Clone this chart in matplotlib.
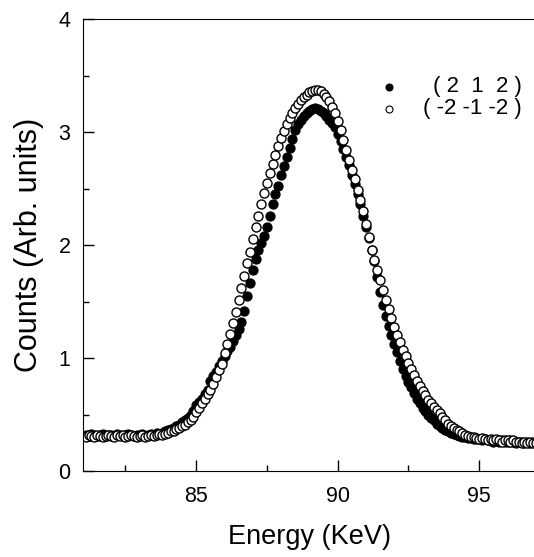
import matplotlib
matplotlib.use("Agg")
import matplotlib.pyplot as plt

plt.rcParams['font.family'] = ['Liberation Sans', 'DejaVu Sans']

# DATA

energy = [
    81.0, 81.1, 81.2, 81.3, 81.4, 81.5, 81.6, 81.7, 81.8, 81.9,
    82.0, 82.1, 82.2, 82.3, 82.4, 82.5, 82.6, 82.7, 82.8, 82.9,
    83.0, 83.1, 83.2, 83.3, 83.4, 83.5, 83.6, 83.7, 83.8, 83.9,
    84.0, 84.1, 84.2, 84.3, 84.4, 84.5, 84.6, 84.7, 84.8, 84.9,
    85.0, 85.1, 85.2, 85.3, 85.4, 85.5, 85.6, 85.7, 85.8, 85.9,
    86.0, 86.1, 86.2, 86.3, 86.4, 86.5, 86.6, 86.7, 86.8, 86.9,
    87.0, 87.1, 87.2, 87.3, 87.4, 87.5, 87.6, 87.7, 87.8, 87.9,
    88.0, 88.1, 88.2, 88.3, 88.4, 88.5, 88.6, 88.7, 88.8, 88.9,
    89.0, 89.1, 89.2, 89.3, 89.4, 89.5, 89.6, 89.7, 89.8, 89.9,
    90.0, 90.1, 90.2, 90.3, 90.4, 90.5, 90.6, 90.7, 90.8, 90.9,
    91.0, 91.1, 91.2, 91.3, 91.4, 91.5, 91.6, 91.7, 91.8, 91.9,
    92.0, 92.1, 92.2, 92.3, 92.4, 92.5, 92.6, 92.7, 92.8, 92.9,
    93.0, 93.1, 93.2, 93.3, 93.4, 93.5, 93.6, 93.7, 93.8, 93.9,
    94.0, 94.1, 94.2, 94.3, 94.4, 94.5, 94.6, 94.7, 94.8, 94.9,
    95.0, 95.1, 95.2, 95.3, 95.4, 95.5, 95.6, 95.7, 95.8, 95.9,
    96.0, 96.1, 96.2, 96.3, 96.4, 96.5, 96.6, 96.7, 96.8, 96.9,
    97.0,
]

# (2 1 2) - filled circles
counts_212 = [
    0.31, 0.32, 0.31, 0.33, 0.32, 0.31, 0.32, 0.33, 0.31, 0.32,
    0.32, 0.31, 0.33, 0.32, 0.31, 0.32, 0.33, 0.32, 0.31, 0.32,
    0.32, 0.33, 0.31, 0.32, 0.33, 0.32, 0.34, 0.33, 0.34, 0.35,
    0.36, 0.37, 0.38, 0.40, 0.41, 0.43, 0.45, 0.47, 0.50, 0.53,
    0.58, 0.61, 0.64, 0.68, 0.72, 0.80, 0.84, 0.88, 0.93, 0.97,
    1.02, 1.06, 1.10, 1.15, 1.20, 1.26, 1.32, 1.42, 1.55, 1.66,
    1.78, 1.88, 1.96, 2.02, 2.08, 2.16, 2.26, 2.36, 2.45, 2.52,
    2.62, 2.70, 2.78, 2.86, 2.94, 3.02, 3.07, 3.11, 3.14, 3.17,
    3.19, 3.20, 3.21, 3.20, 3.19, 3.17, 3.14, 3.11, 3.08, 3.04,
    2.98, 2.92, 2.85, 2.78, 2.71, 2.62, 2.54, 2.45, 2.36, 2.26,
    2.16, 2.06, 1.96, 1.86, 1.72, 1.58, 1.47, 1.37, 1.28, 1.20,
    1.12, 1.05, 0.97, 0.90, 0.84, 0.79, 0.74, 0.69, 0.64, 0.60,
    0.56, 0.53, 0.50, 0.47, 0.45, 0.42, 0.40, 0.38, 0.36, 0.35,
    0.34, 0.33, 0.32, 0.31, 0.30, 0.30, 0.29, 0.29, 0.28, 0.28,
    0.28, 0.27, 0.28, 0.27, 0.27, 0.26, 0.27, 0.26, 0.27, 0.26,
    0.26, 0.27, 0.26, 0.25, 0.26, 0.26, 0.25, 0.26, 0.25, 0.26,
    0.25,
]

# (-2 -1 -2) - open circles
counts_m212 = [
    0.31, 0.30, 0.32, 0.31, 0.30, 0.32, 0.31, 0.30, 0.31, 0.32,
    0.31, 0.30, 0.32, 0.31, 0.32, 0.30, 0.31, 0.32, 0.31, 0.30,
    0.31, 0.32, 0.30, 0.31, 0.32, 0.31, 0.32, 0.33, 0.32, 0.33,
    0.34, 0.35, 0.35, 0.37, 0.38, 0.40, 0.41, 0.43, 0.45, 0.48,
    0.52, 0.56, 0.60, 0.64, 0.68, 0.72, 0.77, 0.83, 0.89, 0.95,
    1.04, 1.12, 1.21, 1.31, 1.41, 1.51, 1.62, 1.73, 1.84, 1.94,
    2.05, 2.16, 2.26, 2.36, 2.46, 2.55, 2.64, 2.72, 2.80, 2.88,
    2.95, 3.01, 3.07, 3.12, 3.17, 3.21, 3.25, 3.28, 3.31, 3.33,
    3.35, 3.36, 3.37, 3.37, 3.36, 3.34, 3.31, 3.27, 3.22, 3.17,
    3.10, 3.02, 2.93, 2.84, 2.75, 2.66, 2.58, 2.49, 2.40, 2.30,
    2.19, 2.07, 1.96, 1.87, 1.78, 1.69, 1.60, 1.51, 1.43, 1.35,
    1.27, 1.20, 1.14, 1.07, 1.02, 0.96, 0.90, 0.85, 0.80, 0.75,
    0.71, 0.67, 0.63, 0.60, 0.57, 0.54, 0.51, 0.48, 0.45, 0.42,
    0.40, 0.38, 0.36, 0.35, 0.34, 0.32, 0.31, 0.30, 0.30, 0.29,
    0.28, 0.29, 0.28, 0.27, 0.28, 0.27, 0.28, 0.27, 0.26, 0.27,
    0.27, 0.26, 0.27, 0.26, 0.26, 0.25, 0.26, 0.25, 0.26, 0.25,
    0.25,
]

label_212 = "( 2  1  2 )"
label_m212 = "( -2 -1 -2 )"

x_ticks = [85, 90, 95]
y_ticks = [0, 1, 2, 3, 4]

# DRAW

fig = plt.figure(figsize=(5.34, 5.57), dpi=100)
ax = fig.add_axes([83 / 534, 1 - 471 / 557, 452.8 / 534, 452 / 557])

ax.plot(energy, counts_212, 'o', color='black', markersize=6.5, markeredgewidth=0.9,
        linestyle='none')
ax.plot(energy, counts_m212, 'o', markerfacecolor='white', markeredgecolor='black',
        markersize=6.5, markeredgewidth=1.0, linestyle='none')

ax.set_xlim(81, 97)
ax.set_ylim(0, 4)
ax.set_xticks(x_ticks)
ax.set_yticks(y_ticks)
ax.set_xticks([82.5, 87.5, 92.5], minor=True)
ax.set_yticks([0.5, 1.5, 2.5, 3.5], minor=True)
ax.tick_params(which='both', direction='in', labelsize=15.5, width=1)
ax.tick_params(which='major', length=8)
ax.tick_params(which='minor', length=4)
ax.tick_params(axis='x', which='major', pad=11)
ax.tick_params(axis='y', which='major', pad=9)
ax.spines['right'].set_visible(False)

ax.set_xlabel("Energy (KeV)", fontsize=19.5, labelpad=12)
ax.set_ylabel("Counts (Arb. units)", fontsize=22, labelpad=10)

# legend keys and labels (labels right-aligned as in the original)
key_x, text_x = 0.676, 0.9695
rows = [(0.8496, label_212, 'black'), (0.8009, label_m212, 'white')]
for y, text, face in rows:
    ax.plot([key_x], [y], 'o', transform=ax.transAxes, markersize=5,
            markerfacecolor=face, markeredgecolor='black', markeredgewidth=0.8,
            clip_on=False)
    ax.text(text_x, y, text, transform=ax.transAxes, ha='right', va='center',
            fontsize=16)

fig.savefig("out.png", dpi=100)
